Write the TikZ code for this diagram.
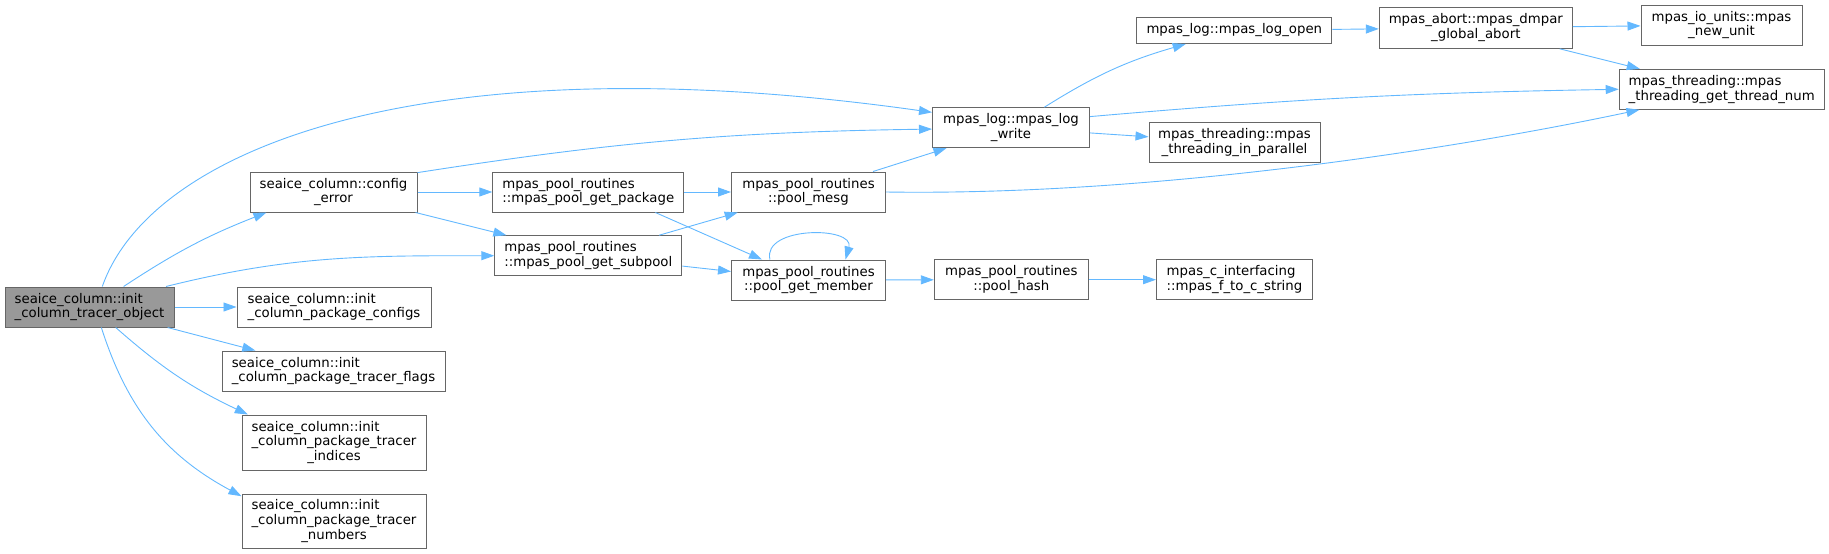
\documentclass[tikz,border=0pt]{standalone}
\usepackage{fontspec}
\setmainfont{DejaVu Sans}
\usetikzlibrary{arrows.meta}
\definecolor{callblue}{HTML}{63B8FF}
\definecolor{boxline}{HTML}{666666}
\definecolor{focusfill}{HTML}{999999}

\begin{document}
\begin{tikzpicture}[x=1pt,y=1pt]
\tikzset{func/.style = {draw=boxline,fill=white,line width=1pt,inner sep=0pt,minimum height=40,font=\fontsize{13.3}{14.6}\selectfont,align=center},
focus/.style = {func,fill=focusfill},
call/.style = {draw=callblue,line width=0.9pt,-{Triangle[length=13pt,width=9pt]}},
every edge/.style = {call}}
\useasboundingbox (0,0) rectangle (1829,-554);
% nodes
\node[focus,minimum width=169,align=left] (root) at (89.5,-307) {seaice\_column::init\\\_column\_tracer\_object};
\node[func,minimum width=167] (cfg) at (333.5,-192) {seaice\_column::config\\\_error};
\node[func,minimum width=194,align=left] (pkgcfg) at (334,-307) {seaice\_column::init\\\_column\_package\_configs};
\node[func,minimum width=223,align=left] (flags) at (333.5,-371) {seaice\_column::init\\\_column\_package\_tracer\_flags};
\node[func,minimum width=184,minimum height=55,align=left] (indices) at (334,-442.5) {seaice\_column::init\\\_column\_package\_tracer\\\hfill\_indices\hfill\null};
\node[func,minimum width=184,minimum height=54,align=left] (numbers) at (334,-521) {seaice\_column::init\\\_column\_package\_tracer\\\hfill\_numbers\hfill\null};
\node[func,minimum width=191,align=left] (getpkg) at (588.3,-192) {mpas\_pool\_routines\\::mpas\_pool\_get\_package};
\node[func,minimum width=187,align=left] (getsub) at (588.3,-255.7) {mpas\_pool\_routines\\::mpas\_pool\_get\_subpool};
\node[func,minimum width=154] (mesg) at (808.5,-192) {mpas\_pool\_routines\\::pool\_mesg};
\node[func,minimum width=154] (member) at (808.5,-280) {mpas\_pool\_routines\\::pool\_get\_member};
\node[func,minimum width=157] (logwrite) at (1011,-127.7) {mpas\_log::mpas\_log\\\_write};
\node[func,minimum width=195,minimum height=26] (logopen) at (1234.3,-30.5) {mpas\_log::mpas\_log\_open};
\node[func,minimum width=171] (parallel) at (1234.5,-142.5) {mpas\_threading::mpas\\\_threading\_in\_parallel};
\node[func,minimum width=154] (hash) at (1011.3,-279.7) {mpas\_pool\_routines\\::pool\_hash};
\node[func,minimum width=156,align=left] (fstr) at (1234.5,-279.7) {mpas\_c\_interfacing\\::mpas\_f\_to\_c\_string};
\node[func,minimum width=193,minimum height=41] (abort) at (1475.8,-27.8) {mpas\_abort::mpas\_dmpar\\\_global\_abort};
\node[func,minimum width=161] (newunit) at (1721.5,-25) {mpas\_io\_units::mpas\\\_new\_unit};
\node[func,minimum width=205,align=left] (threadnum) at (1721.7,-89.3) {mpas\_threading::mpas\\\_threading\_get\_thread\_num};

% calls
\draw[call] (root.58) .. controls (150,-150) and (420,-40) .. (logwrite.169);
\path (root.31) edge[bend left=6] (cfg.197);
\path (root.15) edge[out=14,in=180] (getsub.west);
\path (root) edge (pkgcfg);
\path (root) edge (flags);
\path (root.-38) edge[bend right=8] (indices.162);
\path (root.-60) edge[bend right=22] (numbers.165);

\path (cfg.13) edge[bend left=4] (logwrite.181);
\path (cfg) edge (getpkg);
\path (cfg) edge (getsub);
\path (getpkg) edge (mesg);
\path (getpkg.-17) edge (member);
\path (getsub) edge (mesg);
\path (getsub) edge (member);
\draw[call] (member.152) .. controls (762,-226) and (855,-226) .. (member.29);
\path (member) edge (hash);
\path (hash) edge (fstr);
\path (mesg) edge (logwrite);
\draw[call] (mesg.east) .. controls (1150,-196) and (1450,-150) .. (threadnum.194);

\path (logwrite) edge[bend left=8] (logopen);
\path (logwrite.8) edge[bend left=2] (threadnum.west);
\path (logwrite) edge (parallel);
\path (logopen) edge (abort);
\path (abort) edge (newunit);
\path (abort) edge (threadnum);
\end{tikzpicture}
\end{document}
